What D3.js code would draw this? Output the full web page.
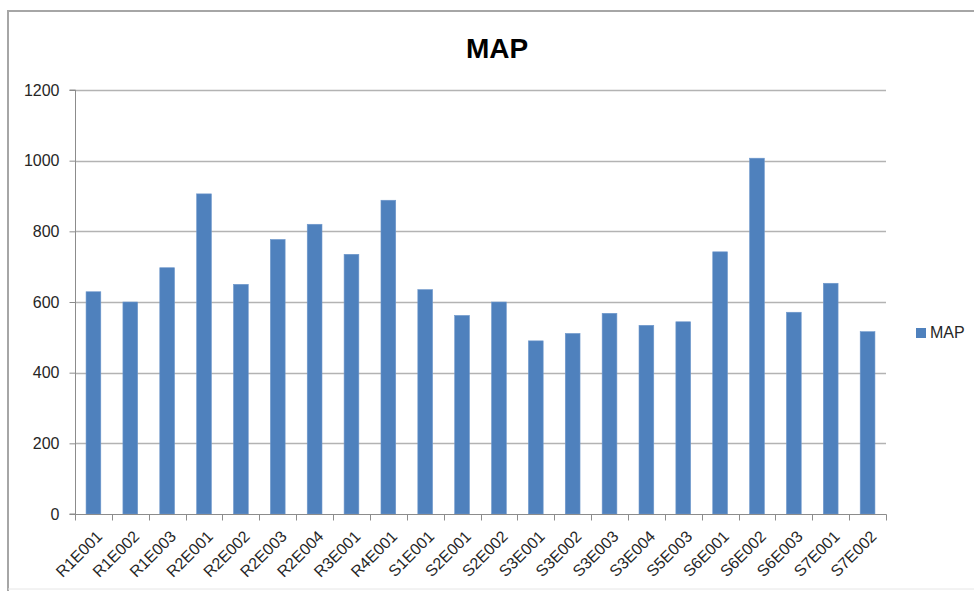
<!DOCTYPE html>
<html>
<head>
<meta charset="utf-8">
<script src="https://cdn.jsdelivr.net/npm/d3@7"></script>
<style>
  html, body { margin: 0; padding: 0; background: #fff; }
  svg { display: block; }
</style>
</head>
<body>
<svg id="chart" width="974" height="591"></svg>
<script>
const categories = ["R1E001","R1E002","R1E003","R2E001","R2E002","R2E003","R2E004","R3E001","R4E001","S1E001","S2E001","S2E002","S3E001","S3E002","S3E003","S3E004","S5E003","S6E001","S6E002","S6E003","S7E001","S7E002"];
const mapValues = [629, 600, 697, 906, 650, 777, 820, 735, 888, 635, 562, 600, 490, 511, 568, 534, 544, 742, 1007, 571, 653, 516];
const yTicks = [0, 200, 400, 600, 800, 1000, 1200];
const seriesName = "MAP";
const titleText = "MAP";

const svg = d3.select("#chart");
const font = "'Liberation Sans', Arial, sans-serif";

// outer chart border
svg.append("path")
  .attr("d", "M8,591 L8,11 L974,11")
  .attr("fill", "none").attr("stroke", "#a6a6a6").attr("stroke-width", 2);
svg.append("line").attr("x1", 8).attr("x2", 974).attr("y1", 589).attr("y2", 589)
  .attr("stroke", "#e6e6e6").attr("stroke-width", 1);

const plot = { left: 75, right: 886, top: 90, bottom: 514 };

const x = d3.scaleBand().domain(categories).range([plot.left, plot.right]).paddingInner(0.6).paddingOuter(0.3);
const xEdges = d3.scaleLinear().domain([0, categories.length]).range([plot.left, plot.right]);
const y = d3.scaleLinear().domain([0, 1200]).range([plot.bottom, plot.top]);

// gridlines
svg.append("g").selectAll("line").data(yTicks.filter(d => d > 0)).join("line")
  .attr("x1", plot.left).attr("x2", plot.right)
  .attr("y1", d => Math.round(y(d)) + 0.5).attr("y2", d => Math.round(y(d)) + 0.5)
  .attr("stroke", "#b3b3b3").attr("stroke-width", 1.3);

// bars
svg.append("g").selectAll("rect").data(mapValues).join("rect")
  .attr("x", (d, i) => x(categories[i]))
  .attr("width", x.bandwidth())
  .attr("y", d => y(d))
  .attr("height", d => y(0) - y(d))
  .attr("fill", "#4f81bd")
  .attr("stroke", "#6f98cc").attr("stroke-width", 0.6);

// y axis
const yAxis = d3.axisLeft(y).tickValues(yTicks).tickSize(6).tickPadding(10).tickFormat(d3.format("d"));
const gy = svg.append("g").attr("transform", `translate(${plot.left + 0.5},0)`).call(yAxis);
gy.select(".domain").attr("stroke", "#8c8c8c").attr("d", `M-6,${plot.top}H0V${plot.bottom}H-6`);
gy.selectAll(".tick line").attr("stroke", "#8c8c8c");
gy.selectAll(".tick text").attr("font-family", font).attr("font-size", 16).attr("fill", "#262626");

// x axis
const gx = svg.append("g").attr("transform", `translate(0,${plot.bottom + 0.5})`);
gx.append("line").attr("x1", plot.left).attr("x2", plot.right + 0.5).attr("stroke", "#8c8c8c");
gx.selectAll("line.t").data(d3.range(categories.length + 1)).join("line")
  .attr("class", "t")
  .attr("x1", d => Math.round(xEdges(d)) + 0.5).attr("x2", d => Math.round(xEdges(d)) + 0.5)
  .attr("y1", 0).attr("y2", 6).attr("stroke", "#8c8c8c");
gx.selectAll("text").data(categories).join("text")
  .attr("transform", d => `translate(${x(d) + x.bandwidth() / 2 + 6},${19}) rotate(-45)`)
  .attr("text-anchor", "end")
  .attr("dy", "0.35em")
  .attr("font-family", font).attr("font-size", 16).attr("fill", "#262626")
  .text(d => d);

// title
svg.append("text").attr("x", 497).attr("y", 58).attr("text-anchor", "middle")
  .attr("font-family", font).attr("font-weight", "bold").attr("font-size", 28).attr("fill", "#000")
  .text(titleText);

// legend
const lg = svg.append("g").attr("transform", "translate(916,328)");
lg.append("rect").attr("width", 10).attr("height", 10).attr("fill", "#4f81bd");
lg.append("text").attr("x", 14).attr("y", 10).attr("font-family", font).attr("font-size", 16).attr("fill", "#262626").text(seriesName);
</script>
</body>
</html>
